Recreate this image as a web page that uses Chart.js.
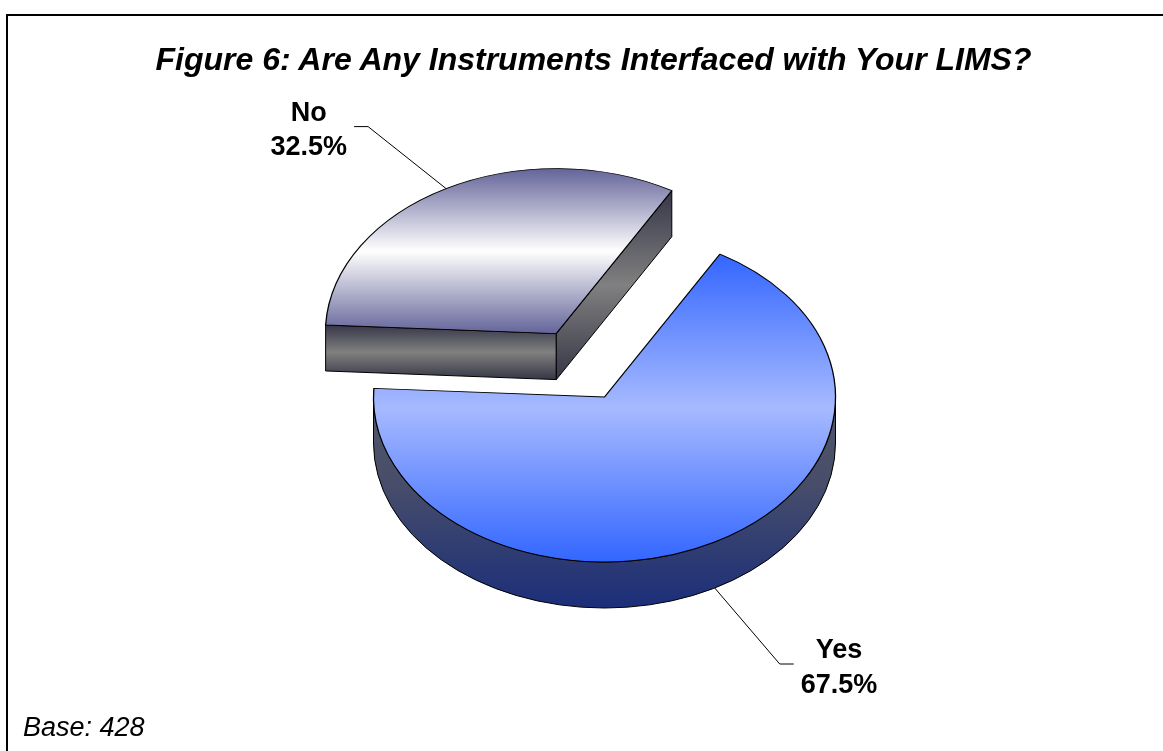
<!DOCTYPE html>
<html>
<head>
<meta charset="utf-8">
<script src="https://cdn.jsdelivr.net/npm/chart.js@4.4.1/dist/chart.umd.min.js"></script>
<style>
  html, body { margin: 0; padding: 0; background: #fff; }
  #wrap { position: relative; width: 1163px; height: 751px; overflow: hidden; background: #fff; }
  #frame { position: absolute; left: 6px; top: 14px; width: 1300px; height: 900px;
           border-left: 2px solid #000; border-top: 2px solid #000; box-sizing: border-box; }
  #chart { position: absolute; left: 0; top: 0; }
  #title { position: absolute; left: 0; width: 1187px; top: 43px; text-align: center; white-space: nowrap;
           font: italic bold 32px/32px "Liberation Sans", Arial, sans-serif; color: #000; }
  #base { position: absolute; left: 23px; top: 714px; white-space: nowrap;
          font: italic 27px/27px "Liberation Sans", Arial, sans-serif; color: #000; }
</style>
</head>
<body>
<div id="wrap">
  <div id="frame"></div>
  <canvas id="chart" width="1163" height="751"></canvas>
  <div id="title"></div>
  <div id="base"></div>
</div>
<script>
// ---- data ----
const titleText = 'Figure 6: Are Any Instruments Interfaced with Your LIMS?';
const categories = ['Yes', 'No'];
const shares = [67.5, 32.5];
const baseCount = 428;

document.getElementById('title').textContent = titleText;
document.getElementById('base').textContent = 'Base: ' + baseCount;

// ---- 3D look ----
const TILT = 165 / 231;        // vertical squash of the pie disc
const DEPTH = 46;              // thickness of the disc, px
const EXPLODE = [0, 101];      // how far each slice is pulled away from the centre
const TOP_FILLS = [
  [[0, '#3366ff'], [0.5, '#a7baff'], [1, '#3366ff']],
  [[0, '#64649a'], [0.5, '#ffffff'], [1, '#64649a']]
];
const SIDE_FILLS = [
  [[0, '#51566b'], [0.4, '#484e69'], [1, '#1b2e7a']],
  [[0, '#363648'], [0.5, '#808080'], [1, '#363646']]
];
const LABEL_ELBOW = [[65, 76], [-78, -62]];   // leader-line bend, relative to its rim point
const LABEL_GAP = 7;                           // space between leader tick and label text
const LABEL_FONT = 'bold 27px "Liberation Sans", Arial, sans-serif';

function vgrad(ctx, y0, y1, stops) {
  const g = ctx.createLinearGradient(0, y0, 0, y1);
  stops.forEach(([p, c]) => g.addColorStop(p, c));
  return g;
}

function sliceGeom(arc, i) {
  const p = arc.getProps(['x', 'y', 'startAngle', 'endAngle', 'outerRadius'], true);
  const m = (p.startAngle + p.endAngle) / 2;
  return {
    x: p.x, y: p.y, s: p.startAngle, e: p.endAngle, r: p.outerRadius, m,
    cx: p.x + EXPLODE[i] * Math.cos(m),
    cy: p.y + EXPLODE[i] * Math.sin(m) * TILT,
    ry: p.outerRadius * TILT
  };
}

function drawSlice(ctx, arc, i) {
  const g = sliceGeom(arc, i);
  const {cx, cy, r, ry, s, e} = g;
  const rim = (a, dz) => [cx + r * Math.cos(a), cy + ry * Math.sin(a) + (dz || 0)];

  ctx.save();
  ctx.lineWidth = 1;
  ctx.strokeStyle = '#000';
  ctx.lineJoin = 'round';

  // radial cut faces that turn toward the viewer
  const faces = [];
  if (Math.cos(s) < 0) faces.push(s);
  if (Math.cos(e) > 0) faces.push(e);
  faces.forEach(a => {
    const [px, py] = rim(a);
    ctx.beginPath();
    ctx.moveTo(cx, cy);
    ctx.lineTo(px, py);
    ctx.lineTo(px, py + DEPTH);
    ctx.lineTo(cx, cy + DEPTH);
    ctx.closePath();
    ctx.fillStyle = vgrad(ctx, Math.min(cy, py), Math.max(cy, py) + DEPTH, SIDE_FILLS[i]);
    ctx.fill();
    ctx.stroke();
  });

  // curved outer wall on the near half of the rim
  for (let k = -2; k <= 2; k++) {
    const a0 = Math.max(s, 2 * Math.PI * k);
    const a1 = Math.min(e, Math.PI + 2 * Math.PI * k);
    if (a1 <= a0) continue;
    let lo = Infinity, hi = -Infinity;
    for (let t = 0; t <= 48; t++) {
      const v = Math.sin(a0 + (a1 - a0) * t / 48);
      lo = Math.min(lo, v); hi = Math.max(hi, v);
    }
    ctx.beginPath();
    ctx.ellipse(cx, cy, r, ry, 0, a0, a1, false);
    const [bx, by] = rim(a1, DEPTH);
    ctx.lineTo(bx, by);
    ctx.ellipse(cx, cy + DEPTH, r, ry, 0, a1, a0, true);
    ctx.closePath();
    ctx.fillStyle = vgrad(ctx, cy + ry * lo, cy + ry * hi + DEPTH, SIDE_FILLS[i]);
    ctx.fill();
    ctx.stroke();
  }
  ctx.restore();

  // top face: the arc element itself, drawn onto the tilted plane
  let lo = 0, hi = 0;
  for (let t = 0; t <= 96; t++) {
    const v = Math.sin(s + (e - s) * t / 96) * r;
    lo = Math.min(lo, v); hi = Math.max(hi, v);
  }
  ctx.save();
  ctx.translate(cx, cy);
  ctx.scale(1, TILT);
  ctx.translate(-g.x, -g.y);
  const saved = arc.options;
  arc.options = Object.assign({}, saved, {backgroundColor: vgrad(ctx, g.y + lo, g.y + hi, TOP_FILLS[i])});
  arc.draw(ctx);
  arc.options = saved;
  ctx.restore();
}

const pie3d = {
  id: 'pie3d',
  beforeDatasetDraw(chart, args) {
    const ctx = chart.ctx;
    const arcs = args.meta.data;
    const order = arcs.map((a, i) => i).sort((a, b) =>
      Math.sin(sliceGeom(arcs[a], a).m) - Math.sin(sliceGeom(arcs[b], b).m));
    order.forEach(i => drawSlice(ctx, arcs[i], i));
    return false;
  },
  afterDraw(chart) {
    const ctx = chart.ctx;
    const arcs = chart.getDatasetMeta(0).data;
    const labels = chart.data.labels;
    const values = chart.data.datasets[0].data;
    ctx.save();
    arcs.forEach((arc, i) => {
      const g = sliceGeom(arc, i);
      const front = Math.sin(g.m) > 0;
      const ax = g.cx + g.r * Math.cos(g.m);
      const ay = g.cy + g.ry * Math.sin(g.m) + (front ? DEPTH : 0);
      const [dx, dy] = LABEL_ELBOW[i];
      const ex = ax + dx, ey = ay + dy;
      const dir = dx >= 0 ? 1 : -1;
      const tx = ex + dir * 14;
      ctx.beginPath();
      ctx.moveTo(ax, ay);
      ctx.lineTo(ex, ey);
      ctx.lineTo(tx, ey);
      ctx.lineWidth = 1;
      ctx.strokeStyle = '#000';
      ctx.stroke();

      const lines = [labels[i], values[i].toFixed(1) + '%'];
      ctx.font = LABEL_FONT;
      ctx.fillStyle = '#000';
      ctx.textAlign = 'center';
      ctx.textBaseline = 'alphabetic';
      const w = Math.max(...lines.map(t => ctx.measureText(t).width));
      const bx = tx + dir * (LABEL_GAP + w / 2);
      ctx.fillText(lines[0], bx, ey - 6);
      ctx.fillText(lines[1], bx, ey + 28.5);
    });
    ctx.restore();
  }
};

new Chart(document.getElementById('chart'), {
  type: 'pie',
  data: {
    labels: categories,
    datasets: [{
      data: shares,
      backgroundColor: ['#a7baff', '#ffffff'],
      borderColor: '#000',
      borderWidth: 1.3,
      radius: 231
    }]
  },
  options: {
    responsive: false,
    devicePixelRatio: 1,
    animation: false,
    events: [],
    rotation: 30,
    radius: 231,
    layout: { padding: { left: 46, top: 43, right: 0, bottom: 0 } },
    plugins: {
      legend: { display: false },
      tooltip: { enabled: false },
      title: { display: false }
    }
  },
  plugins: [pie3d]
});
</script>
</body>
</html>
